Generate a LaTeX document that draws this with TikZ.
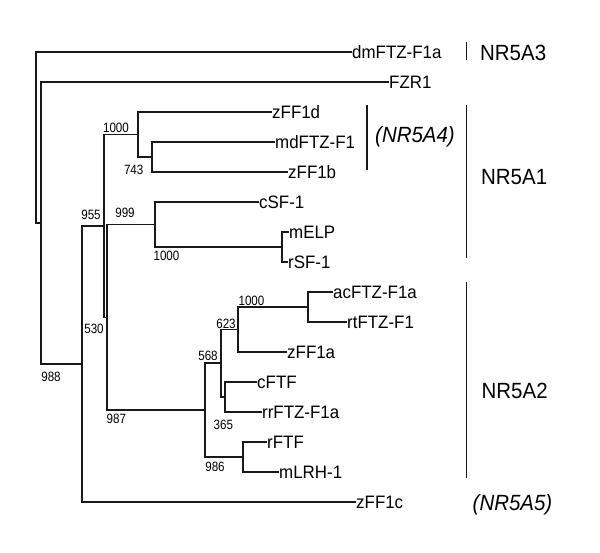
\documentclass[tikz,border=0pt]{standalone}
\usepackage{fontspec}
\setmainfont{Liberation Sans}
\newfontfamily\leaffont[FakeStretch=0.94]{Liberation Sans}
\newfontfamily\bootfont[FakeStretch=0.86]{Liberation Sans}
\newfontfamily\grpfont[FakeStretch=0.93]{Liberation Sans}
\begin{document}
\begin{tikzpicture}[x=1pt,y=-1pt,
  branch/.style={line width=1.6pt,line cap=rect,draw=black!90},
  grpbar/.style={line width=1.6pt,draw=black!90},
  leaf/.style={anchor=west,inner xsep=1pt,inner ysep=0pt,text height=12.6pt,text depth=0pt,font=\leaffont\fontsize{18}{18}\selectfont},
  boot/.style={inner sep=0pt,font=\bootfont\fontsize{13.5}{13.5}\selectfont},
  grp/.style={anchor=base west,inner sep=0pt,font=\grpfont\fontsize{22}{22}\selectfont},
  igrp/.style={grp,font=\grpfont\fontsize{22}{22}\selectfont\itshape}]
\useasboundingbox (0,0) rectangle (600,552);
\fill[white] (0,0) rectangle (600,552);
% leaves
\node[leaf] (dm)    at (351,52)  {dmFTZ-F1a};
\node[leaf] (fzr)   at (388,82)  {FZR1};
\node[leaf] (zd)    at (271,112) {zFF1d};
\node[leaf] (md)    at (274,142) {mdFTZ-F1};
\node[leaf] (zb)    at (287,172) {zFF1b};
\node[leaf] (csf)   at (258,202) {cSF-1};
\node[leaf] (melp)  at (288,232) {mELP};
\node[leaf] (rsf)   at (287,262) {rSF-1};
\node[leaf] (ac)    at (332,292) {acFTZ-F1a};
\node[leaf] (rt)    at (346,322) {rtFTZ-F1};
\node[leaf] (za)    at (286,352) {zFF1a};
\node[leaf] (cftf)  at (256,382) {cFTF};
\node[leaf] (rr)    at (261,412) {rrFTZ-F1a};
\node[leaf] (rftf)  at (266,442) {rFTF};
\node[leaf] (mlrh)  at (278,472) {mLRH-1};
\node[leaf] (zc)    at (355,502) {zFF1c};
% internal nodes
\coordinate (root) at (36,137.5);
\coordinate (nA) at (41,223);
\coordinate (n988) at (82,363.95);
\coordinate (n955) at (104,225.9);
\coordinate (n1000a) at (138,134.5);
\coordinate (n743) at (152,157);
\coordinate (n530) at (107,317.3);
\coordinate (n999) at (155,224.5);
\coordinate (n1000b) at (282,247);
\coordinate (n987) at (205,410.1);
\coordinate (n568) at (221,363.25);
\coordinate (n623) at (238,329.5);
\coordinate (n1000c) at (308,307);
\coordinate (n365) at (225,397);
\coordinate (n986) at (243,457);
% branches
\draw[branch] (root) |- (dm.west);
\draw[branch] (root) |- (nA);
\draw[branch] (nA) |- (fzr.west);
\draw[branch] (nA) |- (n988);
\draw[branch] (n988) |- (n955);
\draw[branch] (n988) |- (zc.west);
\draw[branch] (n955) |- (n1000a);
\draw[branch] (n955) |- (n530);
\draw[branch] (n1000a) |- (zd.west);
\draw[branch] (n1000a) |- (n743);
\draw[branch] (n743) |- (md.west);
\draw[branch] (n743) |- (zb.west);
\draw[branch] (n530) |- (n999);
\draw[branch] (n530) |- (n987);
\draw[branch] (n999) |- (csf.west);
\draw[branch] (n999) |- (n1000b);
\draw[branch] (n1000b) |- (melp.west);
\draw[branch] (n1000b) |- (rsf.west);
\draw[branch] (n987) |- (n568);
\draw[branch] (n987) |- (n986);
\draw[branch] (n568) |- (n623);
\draw[branch] (n568) |- (n365);
\draw[branch] (n623) |- (n1000c);
\draw[branch] (n623) |- (za.west);
\draw[branch] (n1000c) |- (ac.west);
\draw[branch] (n1000c) |- (rt.west);
\draw[branch] (n365) |- (cftf.west);
\draw[branch] (n365) |- (rr.west);
\draw[branch] (n986) |- (rftf.west);
\draw[branch] (n986) |- (mlrh.west);
% bootstrap values
\node[boot] (b1000a) at (116,128.3) {1000};
\node[boot] (b743) at (133.7,170) {743};
\node[boot] (b955) at (91,215) {955};
\node[boot] (b999) at (125,213) {999};
\node[boot] (b1000b) at (166.5,256) {1000};
\node[boot] (b530) at (94,328.5) {530};
\node[boot] (b988) at (51,376.7) {988};
\node[boot] (b987) at (116.3,418.5) {987};
\node[boot] (b568) at (208,356) {568};
\node[boot] (b623) at (226,324) {623};
\node[boot] (b1000c) at (251.5,300.5) {1000};
\node[boot] (b365) at (223.3,424.7) {365};
\node[boot] (b986) at (215,466.7) {986};
% group bars
\coordinate (a3t) at (466.5,42); \coordinate (a3b) at (466.5,60);
\coordinate (a4t) at (367,105); \coordinate (a4b) at (367,170);
\coordinate (a1t) at (466.5,105); \coordinate (a1b) at (466.5,258);
\coordinate (a2t) at (466.5,282); \coordinate (a2b) at (466.5,478);
\draw[grpbar] (a3t) -- (a3b);
\draw[grpbar] (a4t) -- (a4b);
\draw[grpbar] (a1t) -- (a1b);
\draw[grpbar] (a2t) -- (a2b);
% group labels
\node[grp] (g3) at (480,60) {NR5A3};
\node[igrp] (g4) at (375,142.5) {(NR5A4)};
\node[grp] (g1) at (481,184) {NR5A1};
\node[grp] (g2) at (481.5,398.5) {NR5A2};
\node[igrp] (g5) at (472.5,510.5) {(NR5A5)};
\end{tikzpicture}
\end{document}
